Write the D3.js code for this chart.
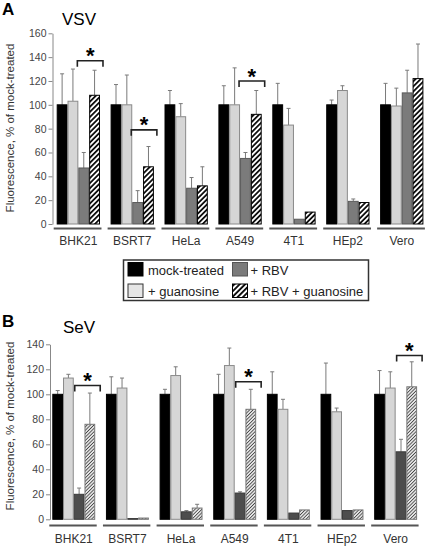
<!DOCTYPE html>
<html><head><meta charset="utf-8">
<script src="https://cdn.jsdelivr.net/npm/d3@7"></script>
<style>
html,body{margin:0;padding:0;background:#fff;}
svg{display:block;font-family:"Liberation Sans",Arial,sans-serif;}
</style></head>
<body>
<script>
// ---------- data ----------
const cellLines = ["BHK21","BSRT7","HeLa","A549","4T1","HEp2","Vero"];
const seriesNames = ["mock-treated","+ guanosine","+ RBV","+ RBV + guanosine"];
const legendOrder = ["mock-treated","+ RBV","+ guanosine","+ RBV + guanosine"];

// VSV (panel A) — mean values
const vsvMock      = [100,100,100,100,100,100,100];
const vsvGuan      = [103,100,90,100,83,112,99];
const vsvRBV       = [47,18,30,55,4,19,110];
const vsvRBVGuan   = [108,48,32,92,10,18,122];
// VSV error bar tops
const vsvMockErr     = [126,117,112,116,118,104,118];
const vsvGuanErr     = [130,125,101,131,97,116,114];
const vsvRBVErr      = [60,28,39,60,4,21,129];
const vsvRBVGuanErr  = [129,65,48,112,10,18,151];
const vsvSignif = [{line:"BHK21",y:137},{line:"BSRT7",y:79},{line:"A549",y:120}];
const vsvTicks = [0,20,40,60,80,100,120,140,160];

// SeV (panel B)
const sevMock      = [100,100,100,100,100,100,100];
const sevGuan      = [113,105,115,123,88,86,105];
const sevRBV       = [20,0.6,6,21,5,7,54];
const sevRBVGuan   = [76,1,9,88,7.5,7.5,106];
const sevMockErr     = [103,114,104,116,118,125,119];
const sevGuanErr     = [116,113,122,137,96,89,118];
const sevRBVErr      = [25,0.6,7,22,5,7,64];
const sevRBVGuanErr  = [101,1,12,104,7.5,7.5,126];
const sevSignif = [{line:"BHK21",y:107},{line:"A549",y:110},{line:"Vero",y:131}];
const sevTicks = [0,20,40,60,80,100,120,140];

const W = 427, H = 546;
const svg = d3.select("body").append("svg").attr("width",W).attr("height",H);
const defs = svg.append("defs");

function hatch(id, period, sw, color, bg){
  const p = defs.append("pattern").attr("id",id).attr("patternUnits","userSpaceOnUse")
    .attr("width",period).attr("height",period).attr("patternTransform","rotate(45)");
  p.append("rect").attr("width",period).attr("height",period).attr("fill",bg);
  p.append("line").attr("x1",period/2).attr("y1",0).attr("x2",period/2).attr("y2",period)
    .attr("stroke",color).attr("stroke-width",sw);
}
hatch("hatchA",3.6,1.7,"#000","#fff");
hatch("hatchB",2.4,0.9,"#444","#eee");
hatch("hatchL",3.8,1.8,"#000","#fff");

function panel(cfg){
  const g = svg.append("g");
  const x0 = d3.scaleBand().domain(cellLines).range(cfg.xRange).paddingInner(cfg.padInner).paddingOuter(0);
  const x1 = d3.scaleBand().domain(seriesNames).range([0,x0.bandwidth()]).padding(0);
  const y = d3.scaleLinear().domain([0,cfg.yMax]).range(cfg.yRange);

  // letter and title
  g.append("text").attr("x",2).attr("y",cfg.letterY).attr("font-size",17).attr("font-weight","bold")
    .attr("fill","#000").text(cfg.letter);
  g.append("text").attr("x",cfg.titleX).attr("y",cfg.titleY).attr("font-size",17).attr("fill","#000").text(cfg.title);

  // y axis
  const ax = g.append("g").attr("transform",`translate(${cfg.axisX},0)`)
    .call(d3.axisLeft(y).tickValues(cfg.ticks).tickSize(4).tickSizeOuter(0).tickPadding(2));
  ax.select(".domain").attr("stroke","#888");
  ax.selectAll(".tick line").attr("stroke","#888");
  ax.selectAll(".tick text").attr("font-size",10.5).attr("fill","#444").attr("font-family","Liberation Sans, Arial, sans-serif");

  g.append("text").attr("transform",`translate(14,${cfg.ytitleY}) rotate(-90)`)
    .attr("text-anchor","middle").attr("font-size",11.5).attr("fill","#333")
    .text("Fluorescence, % of mock-treated");

  const vals = {};
  seriesNames.forEach((s,i)=>vals[s]=cfg.values[i]);
  const errs = {};
  seriesNames.forEach((s,i)=>errs[s]=cfg.errs[i]);

  const fills = {"mock-treated":"#000","+ guanosine":"#d6d6d6","+ RBV":cfg.rbvColor,"+ RBV + guanosine":`url(#${cfg.hatchId})`};
  const strokes = {"mock-treated":"#000","+ guanosine":"#8a8a8a","+ RBV":cfg.rbvStroke,"+ RBV + guanosine":cfg.hatchStroke};

  const groups = g.selectAll("g.grp").data(cellLines).join("g")
    .attr("transform",d=>`translate(${x0(d)},0)`);

  // error bars (behind bars)
  seriesNames.forEach(s=>{
    groups.each(function(d,i){
      const v = vals[s][i], e = errs[s][i];
      if (e - v < 0.8) return;
      const cx = x1(s)+x1.bandwidth()/2;
      const sel = d3.select(this);
      sel.append("line").attr("x1",cx).attr("x2",cx).attr("y1",y(v)).attr("y2",y(e))
        .attr("stroke","#7a7a7a").attr("stroke-width",1);
      sel.append("line").attr("x1",cx-2).attr("x2",cx+2).attr("y1",y(e)).attr("y2",y(e))
        .attr("stroke","#7a7a7a").attr("stroke-width",1);
    });
  });
  seriesNames.forEach(s=>{
    groups.append("rect")
      .attr("x",x1(s)+0.5).attr("width",x1.bandwidth()-1)
      .attr("y",(d,i)=>y(vals[s][i])).attr("height",(d,i)=>Math.max(0,cfg.yRange[0]-y(vals[s][i])))
      .attr("fill",fills[s]).attr("stroke",strokes[s]).attr("stroke-width",1);
  });

  // group underline and label
  groups.append("line").attr("x1",-3).attr("x2",x0.bandwidth()+1.5)
    .attr("y1",cfg.underY).attr("y2",cfg.underY).attr("stroke","#555").attr("stroke-width",2);
  groups.append("text").attr("x",x0.bandwidth()/2).attr("y",cfg.labelY).attr("text-anchor","middle")
    .attr("font-size",12).attr("fill","#333").text(d=>d);

  // significance brackets
  cfg.signif.forEach(sg=>{
    const gx = x0(sg.line);
    const xa = gx + x1("+ RBV") + cfg.brL, xb = gx + x1("+ RBV + guanosine") + x1.bandwidth() + cfg.brR;
    const yy = y(sg.y);
    g.append("path").attr("d",`M${xa},${yy+6}V${yy}H${xb}V${yy+6}`)
      .attr("fill","none").attr("stroke","#222").attr("stroke-width",1.6);
    g.append("text").attr("x",(xa+xb)/2).attr("y",yy-10+0.57*22).attr("text-anchor","middle")
      .attr("font-size",22).attr("font-weight","bold").attr("fill","#000").text("*");
  });
}

panel({letter:"A",letterY:15,title:"VSV",titleX:62,titleY:25,
  xRange:[56.7,423.4],padInner:0.197,yMax:160,yRange:[224,33.3],axisX:52.5,ticks:vsvTicks,
  ytitleY:128,values:[vsvMock,vsvGuan,vsvRBV,vsvRBVGuan],errs:[vsvMockErr,vsvGuanErr,vsvRBVErr,vsvRBVGuanErr],
  rbvColor:"#7b7b7b",rbvStroke:"#5a5a5a",hatchId:"hatchA",hatchStroke:"#000",
  underY:228.5,labelY:245,signif:vsvSignif,brL:-1,brR:3});

panel({letter:"B",letterY:327,title:"SeV",titleX:63,titleY:333,
  xRange:[52.3,417.1],padInner:0.2,yMax:140,yRange:[519.3,344.3],axisX:50,ticks:sevTicks,
  ytitleY:426,values:[sevMock,sevGuan,sevRBV,sevRBVGuan],errs:[sevMockErr,sevGuanErr,sevRBVErr,sevRBVGuanErr],
  rbvColor:"#4d4d4d",rbvStroke:"#3a3a3a",hatchId:"hatchB",hatchStroke:"#777",
  underY:525.5,labelY:543,signif:sevSignif,brL:1,brR:5});

// ---------- legend ----------
const lg = svg.append("g");
lg.append("rect").attr("x",123.5).attr("y",260).attr("width",245).attr("height",40.5)
  .attr("fill","#fff").attr("stroke","#333").attr("stroke-width",1.5);
const legFill = {"mock-treated":"#000","+ guanosine":"#e6e6e6","+ RBV":"#7b7b7b","+ RBV + guanosine":"url(#hatchL)"};
const legStroke = {"mock-treated":"#000","+ guanosine":"#333","+ RBV":"#555","+ RBV + guanosine":"#000"};
const legPos = [{x:128,y:262.5},{x:232.5,y:262.5},{x:128,y:284},{x:232.5,y:284}];
legendOrder.forEach((s,i)=>{
  const p = legPos[i];
  lg.append("rect").attr("x",p.x).attr("y",p.y).attr("width",15).attr("height",13.5)
    .attr("fill",legFill[s]).attr("stroke",legStroke[s]).attr("stroke-width",1);
  lg.append("text").attr("x",p.x+(i%2===0?20:18)).attr("y",p.y+12).attr("font-size",13)
    .attr("fill","#222").text(s);
});
</script>
</body></html>
